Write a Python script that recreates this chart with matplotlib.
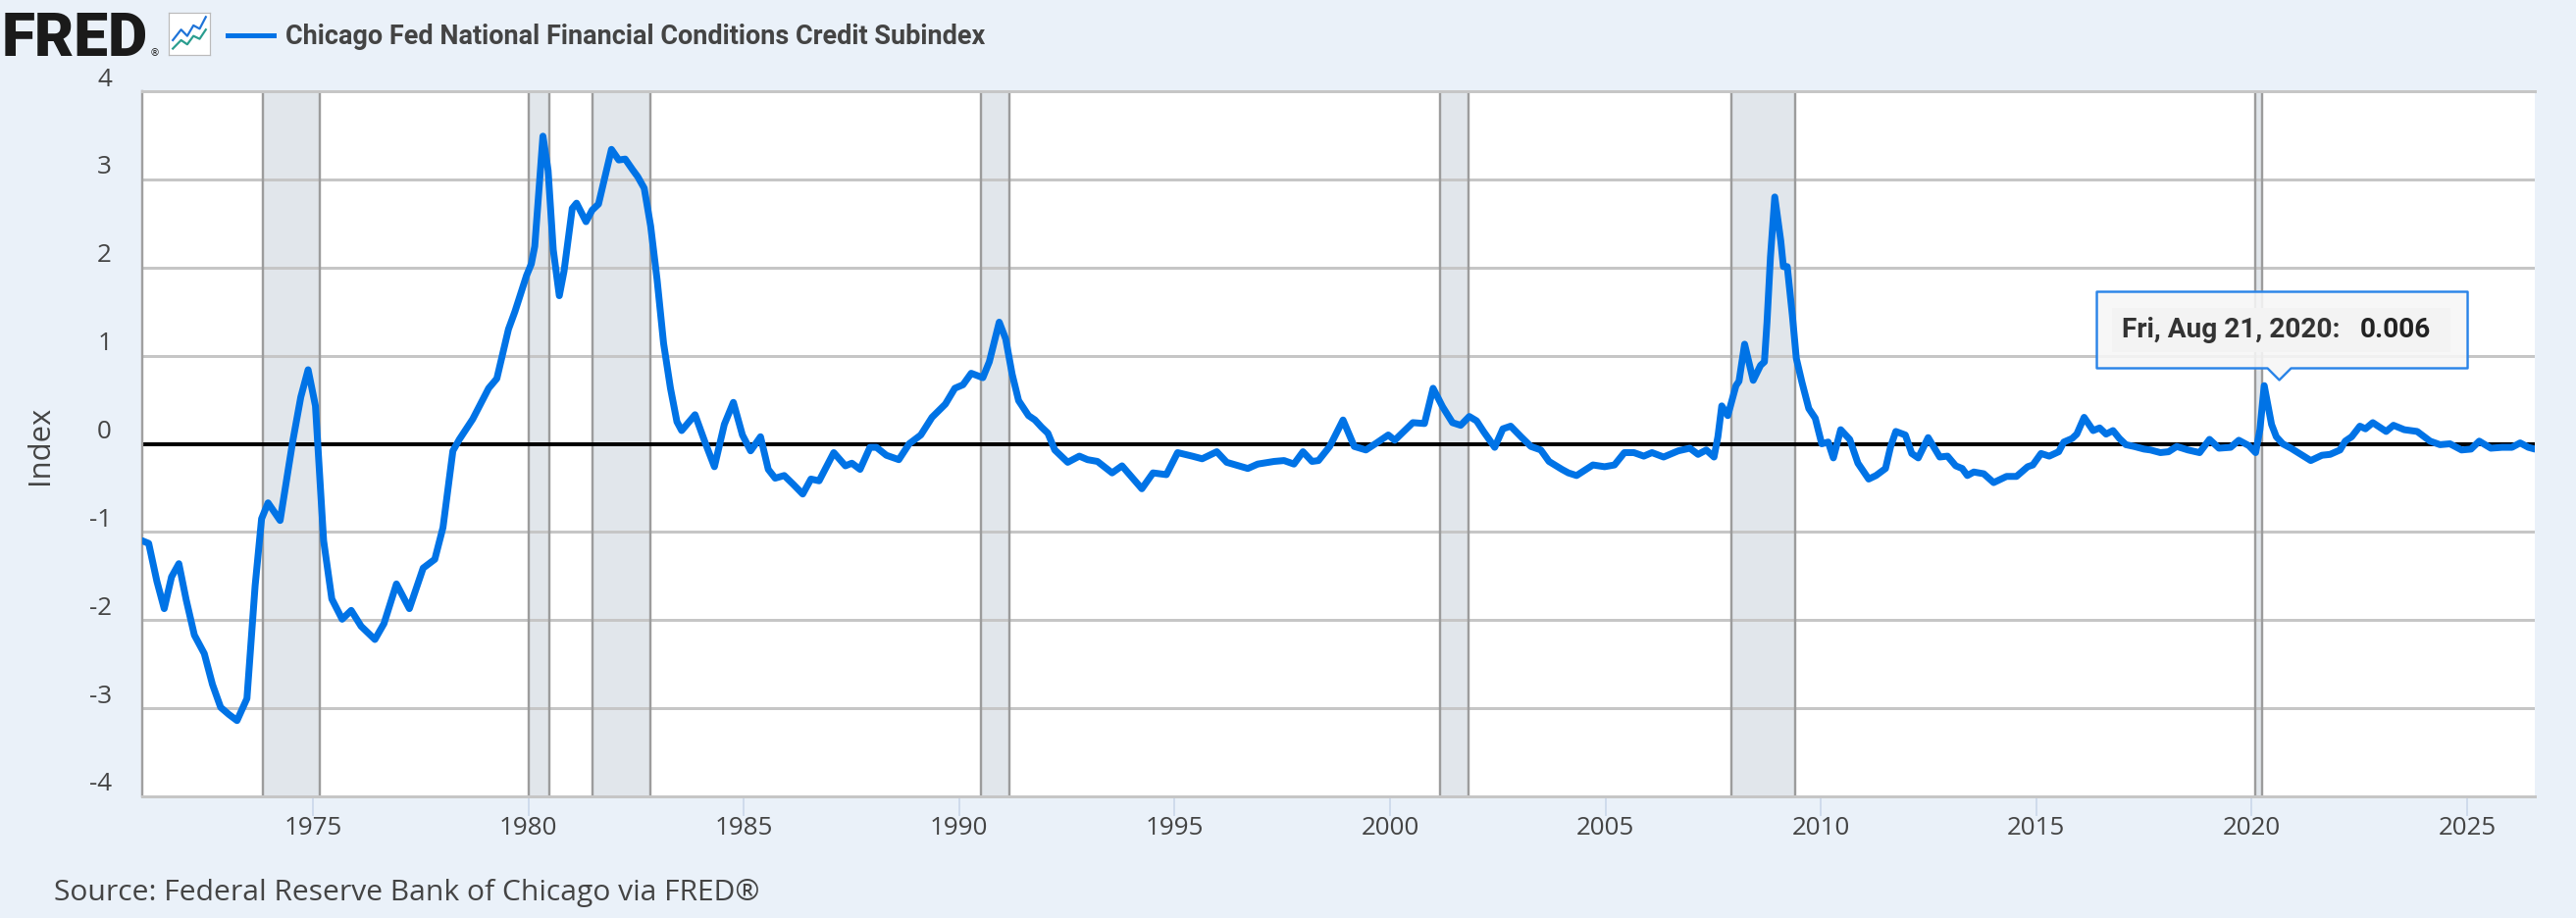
import matplotlib
matplotlib.use("Agg")
import matplotlib.pyplot as plt
from matplotlib.patches import Polygon, Rectangle
from matplotlib.lines import Line2D

# ---------------- data ----------------
years = [
    1971.04, 1971.19, 1971.38, 1971.55, 1971.72, 1971.89, 1972.06, 1972.25, 1972.48, 1972.67,
    1972.86, 1973.05, 1973.24, 1973.47, 1973.66, 1973.81, 1973.96, 1974.24, 1974.38, 1974.53,
    1974.72, 1974.89, 1975.06, 1975.25, 1975.44, 1975.68, 1975.89, 1976.12, 1976.44, 1976.65,
    1976.94, 1977.24, 1977.56, 1977.83, 1978.02, 1978.25, 1978.40, 1978.71, 1979.08, 1979.27,
    1979.54, 1979.69, 1979.96, 1980.07, 1980.15, 1980.34, 1980.46, 1980.58, 1980.72, 1980.83,
    1981.02, 1981.12, 1981.34, 1981.48, 1981.63, 1981.78, 1981.93, 1982.10, 1982.25, 1982.42,
    1982.54, 1982.69, 1982.84, 1982.99, 1983.14, 1983.30, 1983.45, 1983.56, 1983.87, 1984.10,
    1984.32, 1984.55, 1984.76, 1984.97, 1985.16, 1985.39, 1985.57, 1985.73, 1985.94, 1986.15,
    1986.37, 1986.56, 1986.75, 1987.09, 1987.36, 1987.51, 1987.70, 1987.93, 1988.08, 1988.31,
    1988.60, 1988.84, 1989.11, 1989.37, 1989.68, 1989.90, 1990.09, 1990.28, 1990.55, 1990.70,
    1990.93, 1991.08, 1991.23, 1991.38, 1991.61, 1991.76, 1991.91, 1992.06, 1992.22, 1992.52,
    1992.79, 1992.98, 1993.21, 1993.55, 1993.78, 1994.24, 1994.50, 1994.81, 1995.07, 1995.41,
    1995.64, 1995.98, 1996.21, 1996.70, 1996.93, 1997.31, 1997.54, 1997.77, 1997.98, 1998.19,
    1998.34, 1998.60, 1998.91, 1999.17, 1999.44, 1999.69, 1999.96, 2000.11, 2000.53, 2000.80,
    2001.00, 2001.22, 2001.45, 2001.64, 2001.84, 2002.01, 2002.17, 2002.43, 2002.62, 2002.80,
    2003.04, 2003.27, 2003.50, 2003.69, 2003.99, 2004.14, 2004.33, 2004.71, 2004.98, 2005.21,
    2005.44, 2005.66, 2005.89, 2006.08, 2006.35, 2006.69, 2006.96, 2007.15, 2007.34, 2007.52,
    2007.61, 2007.70, 2007.84, 2008.03, 2008.10, 2008.23, 2008.43, 2008.60, 2008.69, 2008.75,
    2008.83, 2008.93, 2009.07, 2009.13, 2009.22, 2009.34, 2009.43, 2009.56, 2009.72, 2009.87,
    2010.02, 2010.17, 2010.29, 2010.46, 2010.67, 2010.86, 2011.11, 2011.28, 2011.50, 2011.62,
    2011.74, 2011.96, 2012.11, 2012.26, 2012.49, 2012.76, 2012.94, 2013.13, 2013.28, 2013.40,
    2013.55, 2013.78, 2014.01, 2014.31, 2014.54, 2014.80, 2014.92, 2015.11, 2015.30, 2015.52,
    2015.64, 2015.83, 2015.94, 2016.11, 2016.32, 2016.47, 2016.62, 2016.78, 2016.93, 2017.08,
    2017.27, 2017.50, 2017.65, 2017.88, 2018.07, 2018.26, 2018.52, 2018.79, 2019.02, 2019.24,
    2019.51, 2019.70, 2019.93, 2020.09, 2020.19, 2020.29, 2020.46, 2020.57, 2020.72, 2020.91,
    2021.14, 2021.37, 2021.63, 2021.82, 2022.05, 2022.17, 2022.32, 2022.51, 2022.64, 2022.81,
    2023.12, 2023.29, 2023.54, 2023.84, 2024.14, 2024.37, 2024.60, 2024.87, 2025.09, 2025.28,
    2025.55, 2025.81, 2026.04, 2026.23, 2026.42, 2026.57,
]
values = [
    -1.10, -1.13, -1.56, -1.87, -1.51, -1.36, -1.77, -2.17, -2.38, -2.73,
    -2.99, -3.07, -3.14, -2.89, -1.61, -0.85, -0.67, -0.87, -0.44, 0.02,
    0.53, 0.84, 0.43, -1.10, -1.76, -1.99, -1.89, -2.07, -2.22, -2.04,
    -1.59, -1.87, -1.41, -1.31, -0.95, -0.08, 0.05, 0.28, 0.63, 0.74,
    1.30, 1.50, 1.91, 2.04, 2.24, 3.49, 3.10, 2.20, 1.68, 1.96,
    2.67, 2.73, 2.52, 2.65, 2.72, 3.03, 3.34, 3.22, 3.23, 3.11,
    3.03, 2.90, 2.47, 1.86, 1.14, 0.63, 0.25, 0.15, 0.33, 0.02,
    -0.26, 0.22, 0.47, 0.10, -0.08, 0.08, -0.29, -0.39, -0.36, -0.46,
    -0.57, -0.40, -0.42, -0.10, -0.25, -0.22, -0.29, -0.04, -0.04, -0.13,
    -0.18, 0.00, 0.10, 0.30, 0.45, 0.63, 0.67, 0.80, 0.75, 0.93,
    1.38, 1.19, 0.79, 0.49, 0.32, 0.27, 0.19, 0.12, -0.07, -0.21,
    -0.14, -0.18, -0.20, -0.33, -0.25, -0.51, -0.33, -0.35, -0.10, -0.14,
    -0.17, -0.09, -0.21, -0.28, -0.23, -0.20, -0.19, -0.23, -0.09, -0.20,
    -0.19, -0.03, 0.27, -0.03, -0.07, 0.01, 0.10, 0.04, 0.24, 0.23,
    0.63, 0.42, 0.24, 0.21, 0.31, 0.26, 0.14, -0.04, 0.17, 0.20,
    0.08, -0.03, -0.07, -0.20, -0.29, -0.33, -0.36, -0.24, -0.26, -0.24,
    -0.10, -0.10, -0.14, -0.10, -0.15, -0.08, -0.05, -0.12, -0.07, -0.15,
    0.08, 0.43, 0.32, 0.66, 0.71, 1.13, 0.72, 0.89, 0.93, 1.38,
    2.12, 2.80, 2.30, 2.01, 2.01, 1.45, 0.97, 0.70, 0.40, 0.29,
    0.00, 0.02, -0.16, 0.16, 0.05, -0.22, -0.40, -0.36, -0.28, -0.03,
    0.14, 0.10, -0.11, -0.16, 0.07, -0.15, -0.14, -0.25, -0.28, -0.36,
    -0.32, -0.34, -0.44, -0.37, -0.37, -0.26, -0.24, -0.11, -0.14, -0.09,
    0.02, 0.06, 0.11, 0.30, 0.15, 0.18, 0.11, 0.15, 0.06, -0.01,
    -0.03, -0.06, -0.07, -0.10, -0.09, -0.03, -0.07, -0.10, 0.05, -0.05,
    -0.04, 0.04, -0.02, -0.10, 0.16, 0.66, 0.22, 0.08, 0.00, -0.05,
    -0.12, -0.19, -0.13, -0.12, -0.07, 0.03, 0.08, 0.20, 0.17, 0.24,
    0.14, 0.21, 0.16, 0.14, 0.03, -0.01, 0.00, -0.07, -0.06, 0.03,
    -0.05, -0.04, -0.04, 0.01, -0.04, -0.06,
]

recession_starts = [1973.833, 1980.000, 1981.496, 1990.496, 2001.162, 2007.915, 2020.085]
recession_ends = [1975.164, 1980.496, 1982.833, 1991.164, 2001.830, 2009.414, 2020.249]

x_ticks = [1975, 1980, 1985, 1990, 1995, 2000, 2005, 2010, 2015, 2020, 2025]
x_tick_labels = ["1975", "1980", "1985", "1990", "1995", "2000", "2005", "2010", "2015", "2020", "2025"]
y_ticks = [-4, -3, -2, -1, 0, 1, 2, 3, 4]
y_tick_labels = ["-4", "-3", "-2", "-1", "0", "1", "2", "3", "4"]

series_name = "Chicago Fed National Financial Conditions Credit Subindex"
tooltip_date_label = "Fri, Aug 21, 2020:"
tooltip_value_label = "0.006"
tooltip_year = 2020.64

# ---------------- style ----------------
W, H, DPI = 2626, 937, 100
PT = 72.0 / DPI  # points per pixel
BG = "#EAF1F9"
LINE_BLUE = "#0073E6"
TEXT = "#444444"
GRID = "#C6C6C6"
REC_FILL = "#E1E6EB"
REC_EDGE = "#9C9C9C"

LEFT, RIGHT, TOP, BOTTOM = 145, 2584, 94, 813
X0, X1 = 1971.04, 2026.57
PX_PER_YEAR = (RIGHT - LEFT) / (X1 - X0)
PX_PER_UNIT = (BOTTOM - TOP) / 8.0

fig = plt.figure(figsize=(W / DPI, H / DPI), dpi=DPI, facecolor=BG)
ax = fig.add_axes([LEFT / W, 1 - BOTTOM / H, (RIGHT - LEFT) / W, (BOTTOM - TOP) / H])
ax.set_facecolor("white")
ax.set_xlim(X0, X1)
ax.set_ylim(-4, 4)

# recessions
for s, e in zip(recession_starts, recession_ends):
    ax.axvspan(s, e, facecolor=REC_FILL, edgecolor="none", zorder=0.5)
    for xv in (s, e):
        ax.axvline(xv, color=REC_EDGE, lw=2.4 * PT, zorder=0.8)

# grid
ax.set_yticks(y_ticks)
ax.yaxis.grid(True, color=GRID, lw=3.0 * PT, zorder=0.6)
ax.set_axisbelow(True)
ax.tick_params(axis="y", length=0, labelleft=False)
for v, lab in zip(y_ticks, y_tick_labels):
    ax.annotate(lab, xy=(0, v), xycoords=("axes fraction", "data"),
                xytext=(-31, 13), textcoords="offset pixels",
                ha="right", va="center", fontsize=26 * PT, color=TEXT,
                family="Open Sans", annotation_clip=False)

# zero line
ax.axhline(0, color="black", lw=4.0 * PT, zorder=2)

# data line
ax.plot(years, values, color=LINE_BLUE, lw=7 * PT, zorder=3,
        solid_joinstyle="round", solid_capstyle="round")

# x axis
ax.set_xticks(x_ticks)
ax.set_xticklabels(x_tick_labels, family="Open Sans")
ax.tick_params(axis="x", length=20 * PT, width=1.6 * PT, color="#C9D6EA",
               labelsize=26 * PT, labelcolor=TEXT, pad=-1)

ax.spines["right"].set_visible(False)
ax.spines["top"].set_color(GRID)
ax.spines["top"].set_linewidth(3.0 * PT)
ax.spines["bottom"].set_color(GRID)
ax.spines["bottom"].set_linewidth(3.0 * PT)
ax.spines["left"].set_color("#A0A0A0")
ax.spines["left"].set_linewidth(2.4 * PT)

# tooltip
tip_x = tooltip_year
def px_x(dx):
    return tip_x + dx / PX_PER_YEAR
def px_y(ypix):
    return (454 - ypix) / PX_PER_UNIT
L, R = px_x(2137 - 2323), px_x(2515 - 2323)
T, B = px_y(299), px_y(377)
tipy = px_y(389)
outline = [(L, B), (px_x(-12), B), (tip_x, tipy), (px_x(12), B), (R, B), (R, T), (L, T)]
ax.add_patch(Polygon(outline, closed=True, facecolor="#F7F7F7", alpha=0.88,
                     edgecolor="none", zorder=5))
ax.add_patch(Polygon(outline, closed=True, facecolor="none", edgecolor="#2A84E8",
                     lw=2.4 * PT, zorder=6, joinstyle="round"))
ax.add_patch(Rectangle((px_x(2152 - 2323), px_y(360)), (2497 - 2152) / PX_PER_YEAR,
                       (360 - 315) / PX_PER_UNIT, facecolor="#F3F3F3", edgecolor="none", zorder=5.5))
ax.text(px_x(2162 - 2323), px_y(337), tooltip_date_label, fontsize=28 * PT, fontweight="bold",
        color="#333333", family="Roboto", ha="left", va="center", zorder=7)
ax.text(px_x(2405 - 2323), px_y(337), tooltip_value_label, fontsize=28 * PT, fontweight="bold",
        color="#222222", family="Roboto", ha="left", va="center", zorder=7)

# y-axis label
fig.text(41 / W, 1 - 454 / H, "Index", rotation=90, ha="center", va="center",
         fontsize=31 * PT, color=TEXT, family="Open Sans")

# header: FRED logo
fig.text(2 / W, 1 - 57 / H, "FRED", fontsize=62 * PT, fontweight="black", family="Roboto",
         color="#1A1A1A", ha="left", va="baseline")
fig.text(153 / W, 1 - 57 / H, "®", fontsize=10 * PT, family="DejaVu Sans",
         color="#1A1A1A", ha="left", va="baseline")
icon = fig.add_axes([172 / W, 1 - 57 / H, 42 / W, 43 / H])
icon.set_facecolor("white")
for sp in icon.spines.values():
    sp.set_color("#BBBBBB")
    sp.set_linewidth(1.2 * PT)
icon.set_xticks([])
icon.set_yticks([])
icon.set_xlim(0, 10)
icon.set_ylim(0, 10)
ICON_BLUE_X = [1, 3, 4.5, 6, 7.5, 9]
ICON_BLUE_Y = [3.5, 6, 4.5, 7, 6.2, 9]
ICON_GREEN_X = [1, 3, 4.5, 6, 7.5, 9]
ICON_GREEN_Y = [1.5, 3.5, 2.5, 4.5, 3.8, 6]
icon.plot(ICON_BLUE_X, ICON_BLUE_Y, color="#1E73D8", lw=2.2 * PT)
icon.plot(ICON_GREEN_X, ICON_GREEN_Y, color="#2A9D8F", lw=2.2 * PT)

# legend entry / title
fig.add_artist(Line2D([232 / W, 279 / W], [1 - 37 / H, 1 - 37 / H], color=LINE_BLUE,
                      lw=5 * PT, transform=fig.transFigure))
fig.text(291 / W, 1 - 45 / H, series_name, fontsize=27 * PT, fontweight="bold",
         family=["Liberation Sans Narrow", "Roboto"], color=TEXT, ha="left", va="baseline")

# source
fig.text(55 / W, 1 - 911 / H, "Source: Federal Reserve Bank of Chicago via FRED®",
         fontsize=30 * PT, color=TEXT, family="Open Sans", ha="left", va="center")

fig.savefig("out.png", dpi=DPI, facecolor=BG)
